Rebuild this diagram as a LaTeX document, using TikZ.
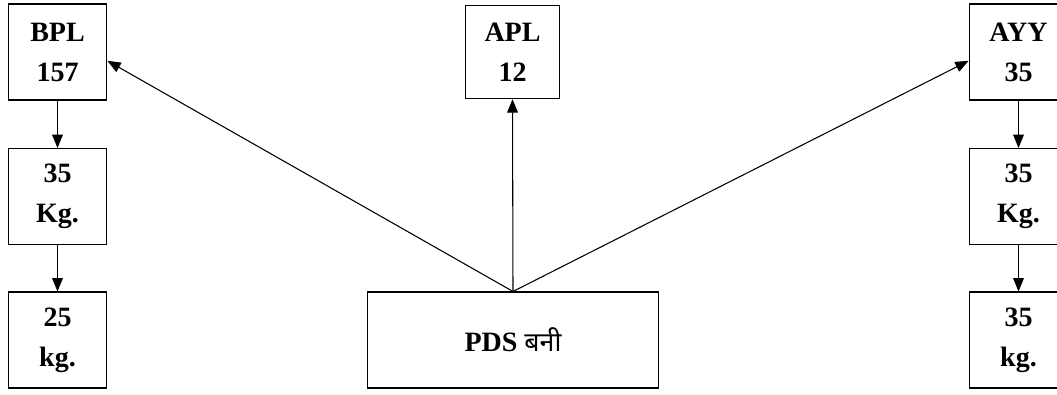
\documentclass[tikz,border=0pt]{standalone}
\usepackage{fontspec}
\setmainfont{Liberation Serif}
\newfontfamily\devfont[Script=Devanagari]{Noto Sans}
\usetikzlibrary{arrows.meta}

\tikzset{
  qbox/.style={draw=black,line width=0.8pt,minimum width=74pt,minimum height=72pt,
    align=center,font=\fontsize{21}{30}\selectfont\bfseries,inner sep=0pt},
  flow/.style={line width=0.8pt,-{Triangle[length=10pt,width=8pt]}}
}

\begin{document}
\begin{tikzpicture}[x=0.75pt,y=-0.75pt]
   \clip (0,0) rectangle (1057,394);
   % left column
   \node[qbox] (bpl) at (57.5,52) {BPL\\157};
   \node[qbox] (bkgA) at (57.5,196.5) {35\\Kg.};
   \node[qbox] (bkgB) at (57.5,340) {25\\kg.};
   % centre
   \node[qbox,minimum width=71pt,minimum height=70pt] (apl) at (512.5,52) {APL\\12};
   \node[qbox,minimum width=218pt] (pds) at (513,340) {PDS {\devfont\mdseries\fontsize{20}{30}\selectfont बनी}};
   % right column
   \node[qbox] (ayy) at (1018.5,52) {AYY\\35};
   \node[qbox] (akgA) at (1018.5,196.5) {35\\Kg.};
   \node[qbox] (akgB) at (1018.5,340) {35\\kg.};
   % arrows
   \draw[flow] (bpl) -- (bkgA);
   \draw[flow] (bkgA) -- (bkgB);
   \draw[flow] (ayy) -- (akgA);
   \draw[flow] (akgA) -- (akgB);
   \draw[flow] (pds.north) -- (apl.south);
   \draw[flow] (pds.north) -- (bpl.-10);
   \draw[flow] (pds.north) -- (ayy.190);
  \end{tikzpicture}
\end{document}
